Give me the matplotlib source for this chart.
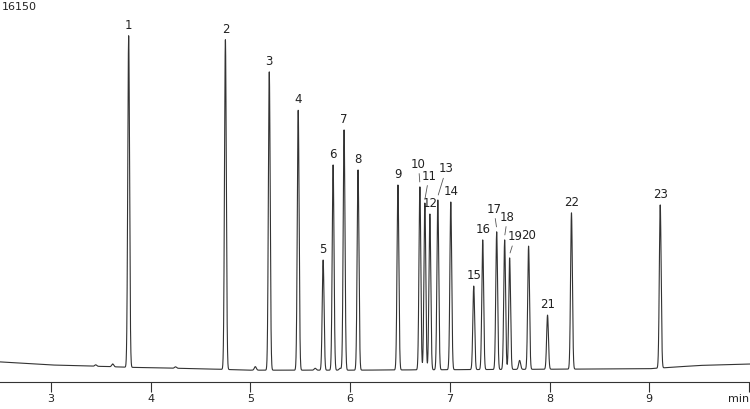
import numpy as np
import matplotlib
matplotlib.use("Agg")
import matplotlib.pyplot as plt

peak_ids = [str(i) for i in range(1, 24)]
peak_rt = [3.78, 4.75, 5.19, 5.48, 5.73, 5.83, 5.94, 6.08, 6.48, 6.70, 6.75, 6.80,
           6.88, 7.01, 7.24, 7.33, 7.47, 7.55, 7.60, 7.79, 7.98, 8.22, 9.11]
peak_height = [14640, 14470, 13110, 11500, 5160, 9180, 10660, 8970, 8330, 8250, 7570, 7110,
               7700, 7610, 4060, 6010, 6350, 6010, 5250, 5750, 2830, 7150, 7490]
minor_rt = [3.45, 3.62, 4.25, 5.05, 5.65, 5.90, 7.70]
minor_height = [60, 120, 60, 150, 80, 80, 380]
base_t = [2.49, 3.0, 3.5, 3.8, 4.5, 5.0, 6.0, 7.0, 8.0, 9.0, 9.5, 10.01]
base_v = [850, 720, 660, 620, 560, 500, 500, 520, 540, 560, 700, 760]
ymax = 16150

offsets = {"10": (-1, 9), "11": (3, 12), "13": (6, 15),
           "17": (-2, 9), "18": (2, 9), "19": (4, 8)}

t = np.linspace(2.49, 10.01, 8000)
y = np.interp(t, base_t, base_v)
sig = 0.009
for rt, h in zip(peak_rt, peak_height):
    y += (h - np.interp(rt, base_t, base_v)) * np.exp(-0.5 * ((t - rt) / sig) ** 2)
for rt, h in zip(minor_rt, minor_height):
    y += h * np.exp(-0.5 * ((t - rt) / 0.01) ** 2)

fig = plt.figure(figsize=(7.5, 4.09), dpi=100)
ax = fig.add_axes([0, 27/409, 1, 382/409])
ax.plot(t, y, color="#333333", lw=0.8)
ax.set_xlim(2.49, 10.01)
ax.set_ylim(0, ymax)
for s in ["left", "right", "top"]:
    ax.spines[s].set_visible(False)
ax.spines["bottom"].set_color("#333333")
ax.spines["bottom"].set_linewidth(0.8)
ax.set_yticks([])
ax.set_xticks([3, 4, 5, 6, 7, 8, 9, 10])
ax.set_xticklabels(["3", "4", "5", "6", "7", "8", "9", "min"])
ax.tick_params(axis="x", direction="out", length=7, pad=1.5, labelsize=8,
               colors="#333333", width=0.8)
for lbl in ax.get_xticklabels():
    lbl.set_color("#222222")
ax.get_xticklabels()[-1].set_horizontalalignment("right")
ax.text(0.003, 0.995, str(ymax), transform=ax.transAxes, ha="left", va="top",
        fontsize=8, color="#222222")

for pid, rt, h in zip(peak_ids, peak_rt, peak_height):
    if pid in offsets:
        dx, dy = offsets[pid]
        ax.annotate(pid, xy=(rt, h + 150), xytext=(dx, dy), textcoords="offset points",
                    ha="center", va="bottom", fontsize=8.5, color="#222222",
                    arrowprops=dict(arrowstyle="-", color="#555555", lw=0.6,
                                    shrinkA=0, shrinkB=1))
    else:
        ax.annotate(pid, xy=(rt, h), xytext=(0, 3), textcoords="offset points",
                    ha="center", va="bottom", fontsize=8.5, color="#222222")

fig.savefig("out.png", dpi=100)
